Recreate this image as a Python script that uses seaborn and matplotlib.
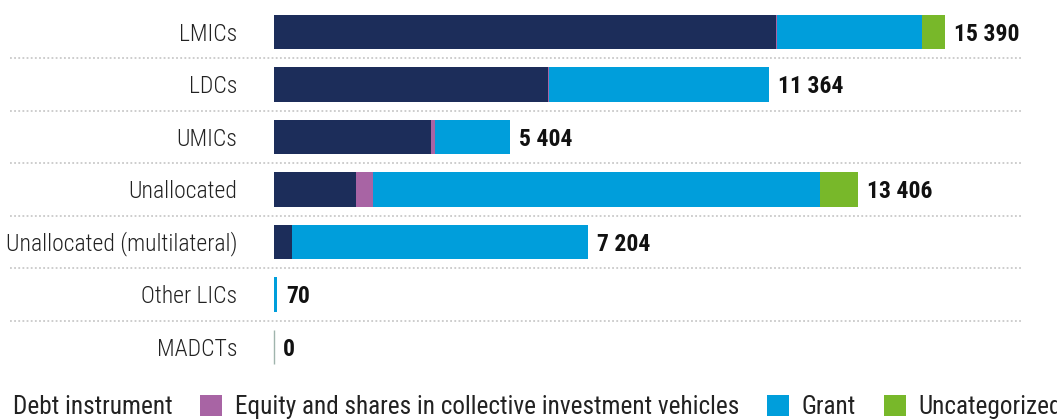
import matplotlib
matplotlib.use("Agg")
import matplotlib.pyplot as plt
from matplotlib import font_manager as fm
from matplotlib.patches import Patch
from matplotlib.transforms import ScaledTranslation
import pandas as pd
import seaborn as sns

# ---- data -------------------------------------------------------------
categories = ["LMICs", "LDCs", "UMICs", "Unallocated",
              "Unallocated (multilateral)", "Other LICs", "MADCTs"]
debt = [11520, 6288, 3600, 1880, 413, 0, 0]
equity = [30, 20, 90, 390, 0, 0, 0]
grant = [3315, 5056, 1714, 10260, 6791, 70, 0]
uncategorized = [525, 0, 0, 876, 0, 0, 0]

series_names = ["Debt instrument",
                "Equity and shares in collective investment vehicles",
                "Grant", "Uncategorized"]
series_colors = ["#1c2d5a", "#a864a4", "#009edb", "#78b82a"]

# ---- style ------------------------------------------------------------
sns.set_theme(style="white")
available = {f.name for f in fm.fontManager.ttflist}
family = "DejaVu Sans"
for cand in ["Roboto Condensed", "Liberation Sans Narrow",
             "DejaVu Sans Condensed", "Roboto"]:
    if cand in available:
        family = cand
        break
plt.rcParams["font.family"] = [family, "DejaVu Sans"]
plt.rcParams["font.stretch"] = "condensed"

df = pd.DataFrame({"category": categories, "debt": debt, "equity": equity,
                   "grant": grant, "uncategorized": uncategorized})
df["c1"] = df["debt"]
df["c2"] = df["c1"] + df["equity"]
df["c3"] = df["c2"] + df["grant"]
df["c4"] = df["c3"] + df["uncategorized"]

fig = plt.figure(figsize=(10.57, 4.19), dpi=100)
ax = fig.add_axes([10 / 1057, 1 - 373.25 / 419, 1011 / 1057, 367.5 / 419])

bar_h = 0.65
# stacked bars: draw cumulative totals from the outermost segment inward
for col, color in zip(["c4", "c3", "c2", "c1"], series_colors[::-1]):
    sns.barplot(data=df, x=col, y="category", order=categories,
                color=color, orient="h", width=bar_h, saturation=1,
                linewidth=0, ax=ax)

# zero-total rows get a hairline marker at the baseline
for i, tot in enumerate(df["c4"]):
    if tot == 0:
        ax.vlines(0, i - bar_h / 2, i + bar_h / 2, color="#9fb4ad", lw=1)

ax.set_xlim(-6058, 17141)
ax.set_ylim(len(categories) - 0.5, -0.5)
ax.set_xlabel("")
ax.set_ylabel("")
ax.set_xticks([])
ax.set_yticks([])
for s in ax.spines.values():
    s.set_visible(False)

# dotted separators between rows
for i in range(len(categories) - 1):
    ax.axhline(i + 0.5, color="#c9c9c9", lw=1.3, ls=(0, (1, 1.3)))

label_off = ScaledTranslation(-37 / 100, -2 / 100, fig.dpi_scale_trans)
value_off = ScaledTranslation(9 / 100, -2 / 100, fig.dpi_scale_trans)
for i, (cat, tot) in enumerate(zip(categories, df["c4"])):
    ax.text(0, i, cat, transform=ax.transData + label_off,
            ha="right", va="center", fontsize=17, color="#222222",
            fontweight="light")
    ax.text(tot, i, f"{tot:,}".replace(",", " "),
            transform=ax.transData + value_off,
            ha="left", va="center", fontsize=17, color="#111111",
            fontweight="bold")

handles = [Patch(facecolor=c, edgecolor="none") for c in series_colors]
fig.legend(handles, series_names, loc="center", ncol=4,
           bbox_to_anchor=(0.492, 1 - 407 / 419), frameon=False,
           fontsize=18.2, handlelength=0.87, handleheight=0.87,
           handletextpad=0.5, columnspacing=1.1, labelcolor="#222222",
           borderpad=0, borderaxespad=0)

fig.savefig("out.png", dpi=100)
